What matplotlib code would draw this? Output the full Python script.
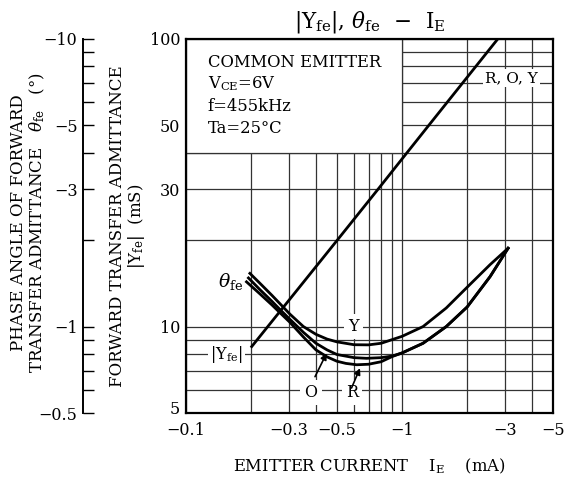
import numpy as np
import matplotlib
matplotlib.use("Agg")
import matplotlib.pyplot as plt
import matplotlib.transforms as mtransforms
from matplotlib.patches import Rectangle

plt.rcParams['font.family'] = ['DejaVu Serif']
plt.rcParams['mathtext.fontset'] = 'dejavuserif'

# |Yfe| (mS) vs emitter current (mA), same line for R, O, Y ranks
ie_yfe = [-0.2, -0.503, -0.775, -1.05, -1.33, -2.78]
yfe_ms = [8.45, 20, 30, 40, 50, 100]

# phase angle theta_fe (deg) vs emitter current (mA), one curve per rank
ie_y = [-0.198, -0.22, -0.25, -0.27, -0.303, -0.35, -0.4, -0.45, -0.5, -0.6, -0.7, -0.8,
        -1.0, -1.25, -1.6, -2.0, -2.55, -3.09]
theta_y = [-1.53, -1.415, -1.285, -1.21, -1.105, -1.0, -0.94, -0.905, -0.885, -0.865, -0.864, -0.875,
           -0.925, -1.0, -1.16, -1.37, -1.64, -1.87]

ie_o = [-0.195, -0.22, -0.25, -0.27, -0.303, -0.35, -0.4, -0.45, -0.5, -0.6, -0.685, -0.8, -0.9,
        -1.0, -1.25, -1.6, -2.0, -2.55, -3.09]
theta_o = [-1.475, -1.345, -1.225, -1.155, -1.06, -0.955, -0.875, -0.83, -0.80, -0.78, -0.776, -0.78, -0.79,
           -0.81, -0.875, -1.0, -1.17, -1.49, -1.87]

ie_r = [-0.191, -0.22, -0.25, -0.27, -0.303, -0.35, -0.4, -0.45, -0.5, -0.55, -0.617, -0.7, -0.8, -0.9,
        -1.0, -1.25, -1.6, -2.0, -2.55, -3.09]
theta_r = [-1.43, -1.30, -1.19, -1.125, -1.035, -0.92, -0.83, -0.785, -0.758, -0.745, -0.737, -0.74, -0.755,
           -0.787, -0.81, -0.875, -1.0, -1.17, -1.49, -1.87]

x_ticks = [-0.1, -0.3, -0.5, -1, -3, -5]
y_ticks = [5, 10, 30, 50, 100]
ph_ticks = [-0.5, -1, -3, -5, -10]


def lab(v):
    return "\u2212" + ("%g" % abs(v))


grid_c = '0.2'

fig = plt.figure(figsize=(5.67, 4.8), dpi=100)
ax = fig.add_axes([185.7 / 567, 1 - 413.3 / 480, 367.6 / 567, 374.8 / 480])
ax.set_xscale('log')
ax.set_yscale('log')
ax.set_xlim(0.1, 5)
ax.set_ylim(5, 100)

ax.set_xticks([-v for v in x_ticks])
ax.set_xticklabels([lab(v) for v in x_ticks])
ax.set_xticks([0.2, 0.4, 0.6, 0.7, 0.8, 0.9, 2, 4], minor=True)
ax.xaxis.set_minor_formatter(matplotlib.ticker.NullFormatter())
ax.set_yticks(y_ticks)
ax.set_yticklabels([str(v) for v in y_ticks])
ax.set_yticks([6, 7, 8, 9, 20, 40, 60, 70, 80, 90], minor=True)
ax.yaxis.set_minor_formatter(matplotlib.ticker.NullFormatter())
ax.tick_params(which='both', length=0, labelsize=11.5)
ax.tick_params(axis='x', pad=6)
ax.tick_params(axis='y', pad=4)
ax.set_axisbelow(True)
ax.grid(which='both', color=grid_c, linewidth=0.9)
for s in ax.spines.values():
    s.set_linewidth(1.6)

# lift the bottom "5" a little so it clears the "-0.1" below it
lbl5 = ax.get_yticklabels()[0]
lbl5.set_transform(lbl5.get_transform() +
                   mtransforms.ScaledTranslation(0, 4 / 72, fig.dpi_scale_trans))

# conditions box hides the grid in the upper left
ax.add_patch(Rectangle((0.1, 40), 0.9, 60, facecolor='white', edgecolor=grid_c,
                       linewidth=0.9, zorder=1))
cond = ["COMMON EMITTER", r"V$_{\mathrm{CE}}$=6V", "f=455kHz", "Ta=25\u00b0C"]
for i, t in enumerate(cond):
    ax.text(0.06, 0.937 - i * 0.0587, t, transform=ax.transAxes, fontsize=11.8,
            va='center', ha='left', zorder=5)

ax.plot([-v for v in ie_yfe], yfe_ms, color='black', linewidth=2.0, zorder=3,
        solid_capstyle='butt')

ax.set_xlabel(r"EMITTER CURRENT    I$_{\mathrm{E}}$    (mA)", fontsize=11.8, labelpad=13)
ax.set_title(r"|Y$_{\mathrm{fe}}$|, $\theta_{\mathrm{fe}}$  $-$  I$_{\mathrm{E}}$", fontsize=15.5, pad=8)

bb = dict(facecolor='white', edgecolor='none', pad=1.5)
ax.text(3.2, 73, "R, O, Y", fontsize=11, ha='center', va='center', bbox=bb, zorder=4)
ax.text(0.184, 8.0, r"|Y$_{\mathrm{fe}}$|", fontsize=11.5, ha='right', va='center', bbox=bb, zorder=4)
ax.text(0.184, 14.3, r"$\theta_{\mathrm{fe}}$", fontsize=13.5, ha='right', va='center', zorder=4)
ax.text(0.595, 10, "Y", fontsize=11.5, ha='center', va='center',
        bbox=dict(facecolor='white', edgecolor='none', pad=3), zorder=4)
ax.text(0.379, 5.9, "O", fontsize=11.5, ha='center', va='center',
        bbox=dict(facecolor='white', edgecolor='none', pad=3), zorder=4)
ax.text(0.587, 5.9, "R", fontsize=11.5, ha='center', va='center',
        bbox=dict(facecolor='white', edgecolor='none', pad=3), zorder=4)
arw = dict(arrowstyle='-|>', color='black', linewidth=1.2, mutation_scale=9, shrinkA=0, shrinkB=0)
ax.annotate("", xy=(0.448, 8.08), xytext=(0.396, 6.7), arrowprops=arw, zorder=4)
ax.annotate("", xy=(0.639, 7.17), xytext=(0.584, 6.12), arrowprops=arw, zorder=4)

# phase angle axis, drawn as a separate spine on the far left
ph = ax.twinx()
ph.set_yscale('log')
ph.set_ylim(0.5, 10)
for k in ['right', 'top', 'bottom']:
    ph.spines[k].set_visible(False)
ph.spines['left'].set_visible(True)
ph.spines['left'].set_position(('axes', (83 - 185.7) / 367.6))
ph.spines['left'].set_linewidth(1.4)
ph.yaxis.set_ticks_position('left')
ph.yaxis.set_label_position('left')
ph.set_yticks([-v for v in ph_ticks])
ph.set_yticklabels([lab(v) for v in ph_ticks])
ph.set_yticks([0.6, 0.7, 0.8, 0.9, 2, 4, 6, 7, 8, 9], minor=True)
ph.yaxis.set_minor_formatter(matplotlib.ticker.NullFormatter())
ph.tick_params(which='both', direction='in', length=8, width=1.0, labelsize=11.5, pad=4)

for xs, ts in [(ie_y, theta_y), (ie_o, theta_o), (ie_r, theta_r)]:
    ph.plot([-v for v in xs], [-v for v in ts], color='black', linewidth=2.0,
            solid_joinstyle='round')

fig.text(28.7 / 567, 1 - 223 / 480,
         "PHASE ANGLE OF FORWARD\nTRANSFER ADMITTANCE   " + r"$\theta_{\mathrm{fe}}$" + "   (\u00b0)",
         rotation=90, ha='center', va='center', fontsize=12, linespacing=1.0)
fig.text(128 / 567, 1 - 226 / 480,
         "FORWARD TRANSFER ADMITTANCE\n" + r"|Y$_{\mathrm{fe}}$|  (mS)",
         rotation=90, ha='center', va='center', fontsize=12, linespacing=1.0)

fig.savefig("out.png", dpi=100)
